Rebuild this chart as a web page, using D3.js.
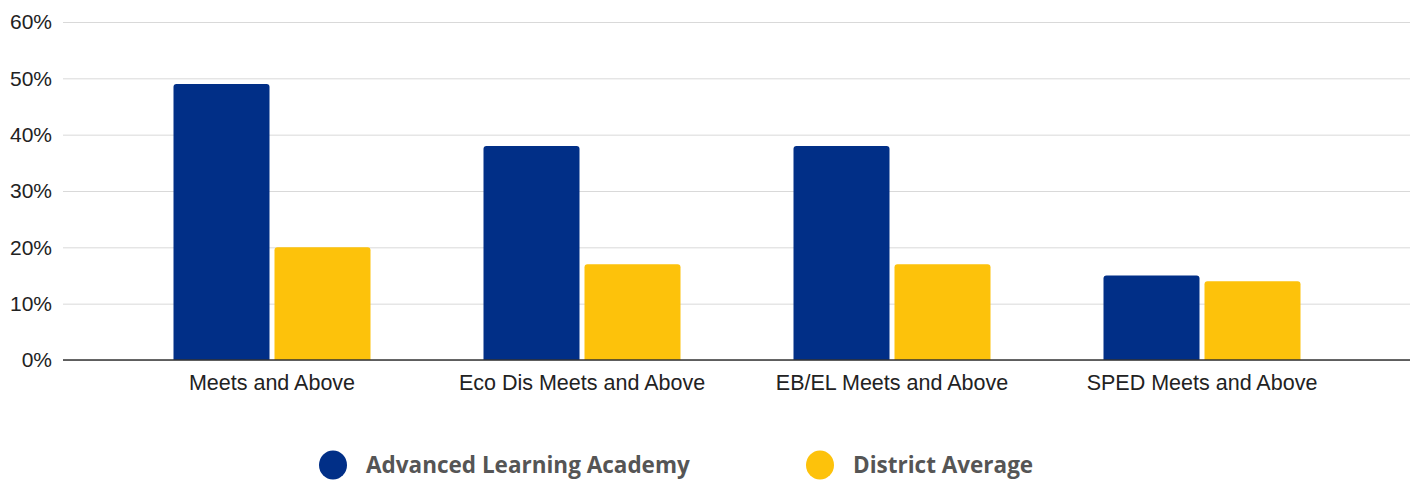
<!DOCTYPE html>
<html>
<head>
<meta charset="utf-8">
<script src="https://cdn.jsdelivr.net/npm/d3@7"></script>
<style>
  body { margin: 0; background: #fff; }
</style>
</head>
<body>
<div id="chart"></div>
<script>
const categories = ["Meets and Above", "Eco Dis Meets and Above", "EB/EL Meets and Above", "SPED Meets and Above"];
const seriesNames = ["Advanced Learning Academy", "District Average"];
const academyValues = [49, 38, 38, 15];
const districtValues = [20, 17, 17, 14];
const yTicks = [0, 10, 20, 30, 40, 50, 60];
const colors = ["#012f87", "#fdc20b"];

const W = 1419, H = 480;
const plot = { left: 63, right: 1410, top: 22, bottom: 360 };

const svg = d3.select("#chart").append("svg")
  .attr("width", W).attr("height", H);

// y scale
const y = d3.scaleLinear().domain([0, 60]).range([plot.bottom, plot.top]);

// gridlines + tick labels
const yAxis = svg.append("g")
  .attr("transform", `translate(${plot.left},0)`)
  .call(d3.axisLeft(y).tickValues(yTicks).tickSize(-(plot.right - plot.left)).tickFormat(d => d + "%"));
yAxis.select(".domain").remove();
yAxis.selectAll(".tick line").attr("stroke", "#d9d9d9").attr("stroke-width", 1);
yAxis.selectAll(".tick text")
  .attr("x", -11)
  .attr("fill", "#222")
  .style("font-family", "'Liberation Sans', Arial, sans-serif")
  .style("font-size", "21px");

// x scales
const x0 = d3.scaleBand().domain(categories).range([117, 1357]).paddingInner(0.3645).paddingOuter(0.3645 / 2);
const x1 = d3.scaleBand().domain(seriesNames).range([0, x0.bandwidth()]).paddingInner(0.0495).paddingOuter(0);

const rows = categories.map((c, i) => ({ cat: c, vals: [academyValues[i], districtValues[i]] }));

function topRounded(x, yTop, w, h, r) {
  r = Math.min(r, h);
  return `M${x},${yTop + h}V${yTop + r}Q${x},${yTop} ${x + r},${yTop}H${x + w - r}Q${x + w},${yTop} ${x + w},${yTop + r}V${yTop + h}Z`;
}

const groups = svg.append("g").selectAll("g")
  .data(rows).enter().append("g")
  .attr("transform", d => `translate(${x0(d.cat)},0)`);

groups.selectAll("path")
  .data(d => d.vals.map((v, j) => ({ name: seriesNames[j], v, j })))
  .enter().append("path")
  .attr("d", d => topRounded(x1(d.name), y(d.v), x1.bandwidth(), y(0) - y(d.v), 3))
  .attr("fill", d => colors[d.j]);

// baseline
svg.append("line")
  .attr("x1", plot.left).attr("x2", plot.right)
  .attr("y1", y(0)).attr("y2", y(0))
  .attr("stroke", "#333").attr("stroke-width", 1.5);

// category labels
svg.append("g")
  .attr("transform", `translate(0,${plot.bottom})`)
  .call(d3.axisBottom(x0).tickSize(0).tickPadding(15))
  .call(g => g.select(".domain").remove())
  .selectAll("text")
  .attr("fill", "#222")
  .style("font-family", "'Liberation Sans', Arial, sans-serif")
  .style("font-size", "21.5px");

// legend
const legendX = [333, 820];
const legend = svg.append("g").selectAll("g")
  .data(seriesNames).enter().append("g")
  .attr("transform", (d, i) => `translate(${legendX[i]},465)`);
legend.append("ellipse").attr("rx", 14).attr("ry", 14.5).attr("fill", (d, i) => colors[i]);
legend.append("text")
  .attr("x", 33).attr("dy", "0.35em")
  .attr("fill", "#555")
  .style("font-family", "'Open Sans', sans-serif")
  .style("font-weight", "700")
  .style("font-size", "22.5px")
  .text(d => d);
</script>
</body>
</html>
